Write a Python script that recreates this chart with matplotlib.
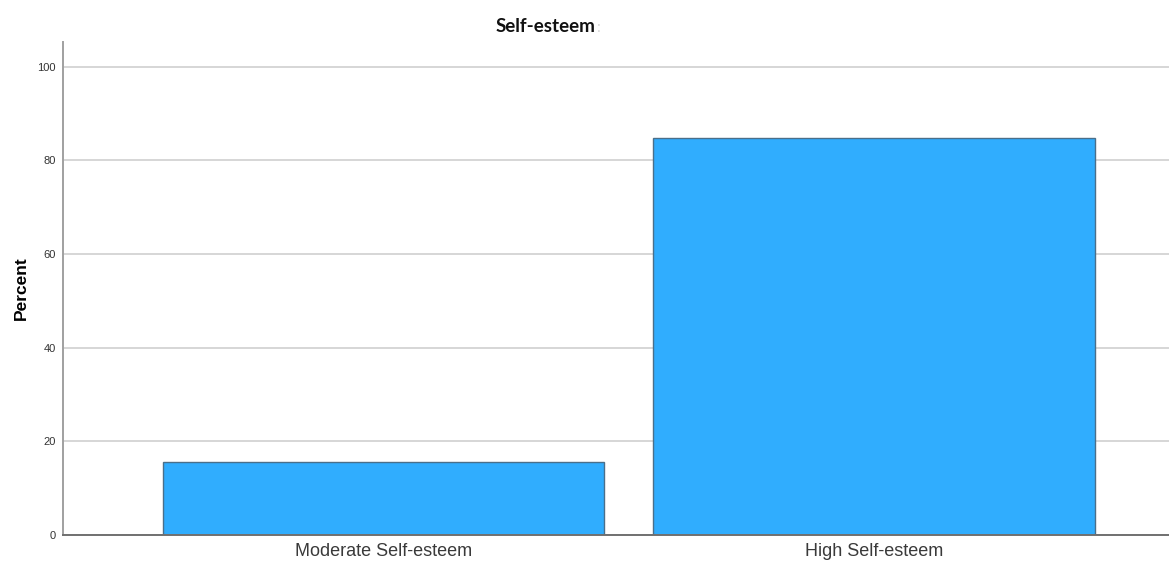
import matplotlib
matplotlib.use("Agg")
import matplotlib.pyplot as plt

categories = ["Moderate Self-esteem", "High Self-esteem"]
percent = [15.6, 84.7]
yticks = [0, 20, 40, 60, 80, 100]

fig = plt.figure(figsize=(11.69, 5.65), dpi=100)
ax = fig.add_axes([0.0539, 0.0531, 0.9461, 0.8726])

x = list(range(len(categories)))
ax.bar(x, percent, width=0.9, color="#30adfe", edgecolor="#4a6f8a", linewidth=1.0, zorder=3)

ax.set_xlim(-0.653, 1.601)
ax.set_ylim(0, 105.3)
ax.set_yticks(yticks)
ax.set_yticklabels([str(t) for t in yticks], fontsize=8, family="Liberation Sans", color="#333333")
ax.set_xticks(x)
ax.set_xticklabels(categories, fontsize=13, family="Liberation Sans", color="#3a3a3a")
ax.tick_params(axis="both", length=0)
ax.tick_params(axis="y", pad=5)
ax.tick_params(axis="x", pad=6)

ax.yaxis.grid(True, color="#d6d6d6", linewidth=1.4, zorder=0)
ax.set_axisbelow(True)
for s in ["top", "right"]:
    ax.spines[s].set_visible(False)
ax.spines["left"].set_color("#a0a0a0")
ax.spines["left"].set_linewidth(1.4)
ax.spines["bottom"].set_color("#707070")
ax.spines["bottom"].set_linewidth(1.4)
ax.spines["left"].set_zorder(4)
ax.spines["bottom"].set_zorder(4)

ax.set_ylabel("Percent", fontsize=12.5, fontweight="bold", family="Liberation Sans")
ax.yaxis.set_label_coords(-0.031, 0.5)
fig.text(0.4662, 1 - 27 / 565, "Self-esteem", ha="center", va="center",
         fontsize=13.5, fontweight="bold", family="Lato", color="#111111")
fig.text(598 / 1169, 1 - 28 / 565, ":", ha="center", va="center",
         fontsize=11, family="Lato", color="#d8d8d8")

fig.savefig("out.png", dpi=100)
